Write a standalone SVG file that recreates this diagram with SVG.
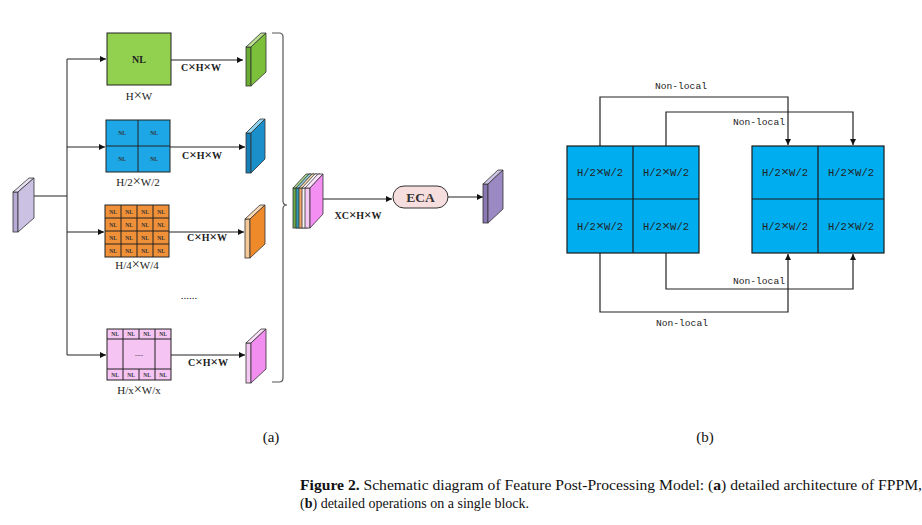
<svg xmlns="http://www.w3.org/2000/svg" width="922" height="525" viewBox="0 0 922 525">
<defs>
<marker id="ah" viewBox="0 0 10 10" refX="10" refY="5" markerWidth="7" markerHeight="6" orient="auto" markerUnits="userSpaceOnUse"><path d="M0,0 L10,5 L0,10 z" fill="#111"/></marker>
<style>
.ln{fill:none;stroke:#222;stroke-width:1}
.lb{fill:none;stroke:#222;stroke-width:1.2}
.ol{stroke:#333;stroke-width:0.8}
.grid{stroke:#222;stroke-width:1}
.dim{font-family:"Liberation Serif",serif;font-size:11px;fill:#222;text-anchor:middle}
.chw{font-family:"Liberation Serif",serif;font-size:10px;font-weight:bold;fill:#222;text-anchor:middle}
.nl{font-family:"Liberation Serif",serif;font-size:5.5px;font-weight:bold;fill:#333;text-anchor:middle}
.mono{font-family:"Liberation Mono",monospace;font-size:10.5px;fill:#222;text-anchor:middle}
.nlo{font-family:"Liberation Mono",monospace;font-size:9.6px;fill:#222;text-anchor:middle}
.cap{font-family:"Liberation Serif",serif;font-size:14px;fill:#111}
.sub{font-family:"Liberation Serif",serif;font-size:15px;fill:#111;text-anchor:middle}
.x{font-size:1.3em}
</style>
</defs>
<rect width="922" height="525" fill="#fff"/>

<g id="connectors">
<path class="ln" d="M34,196 H67"/>
<path class="ln" d="M67,59 V355"/>
<path class="ln" d="M67,59 H106" marker-end="url(#ah)"/>
<path class="ln" d="M67,147 H105" marker-end="url(#ah)"/>
<path class="ln" d="M67,232 H104" marker-end="url(#ah)"/>
<path class="ln" d="M67,355 H106" marker-end="url(#ah)"/>
<path class="ln" d="M171,60 H243" marker-end="url(#ah)"/>
<path class="ln" d="M170,147 H245" marker-end="url(#ah)"/>
<path class="ln" d="M169,232 H244" marker-end="url(#ah)"/>
<path class="ln" d="M171,355 H245" marker-end="url(#ah)"/>
<path class="ln" d="M323,199 H392" marker-end="url(#ah)"/>
<path class="ln" d="M448,197 H483" marker-end="url(#ah)"/>
<path d="M272,33 H279 Q283,33 283,37 V201 Q283,205 287,205 Q283,205 283,209 V378 Q283,382 279,382 H272" fill="none" stroke="#555" stroke-width="1.2"/>
<path class="lb" d="M600,146 V97 H788 V145" marker-end="url(#ah)"/>
<path class="lb" d="M666,146 V112 H853 V145" marker-end="url(#ah)"/>
<path class="lb" d="M666,253 V289 H853 V254" marker-end="url(#ah)"/>
<path class="lb" d="M600,253 V312 H788 V254" marker-end="url(#ah)"/>
</g>

<g id="input-slab">
<rect x="13" y="192" width="5" height="40" fill="#b8acd6" class="ol"/>
<polygon points="13,192 18,192 34,178 29,178" fill="#e6e0f2" class="ol"/>
<polygon points="18,192 34,178 34,218 18,232" fill="#cbc1e3" class="ol"/>
</g>

<g id="nl-full">
<rect x="107" y="33" width="64" height="52" fill="#92d050" class="grid"/>
<text x="139" y="63" class="chw" font-size="9">NL</text>
<text x="139" y="100" class="dim">H<tspan class="x">×</tspan>W</text>
</g>

<g id="nl-2x2">
<rect x="106" y="120" width="64" height="52" fill="#1ea7e6" class="grid"/>
<path class="grid" d="M138,120 V172 M106,146 H170"/>
<text x="122" y="135" class="nl">NL</text><text x="154" y="135" class="nl">NL</text>
<text x="122" y="161" class="nl">NL</text><text x="154" y="161" class="nl">NL</text>
<text x="138" y="186" class="dim">H/2<tspan class="x">×</tspan>W/2</text>
</g>

<g id="nl-4x4">
<rect x="105" y="205" width="64" height="52" fill="#f0913a" class="grid"/>
<path class="grid" d="M121,205 V257 M137,205 V257 M153,205 V257 M105,218 H169 M105,231 H169 M105,244 H169"/>
<g class="nl">
<text x="113" y="213.5">NL</text><text x="129" y="213.5">NL</text><text x="145" y="213.5">NL</text><text x="161" y="213.5">NL</text>
<text x="113" y="226.5">NL</text><text x="129" y="226.5">NL</text><text x="145" y="226.5">NL</text><text x="161" y="226.5">NL</text>
<text x="113" y="239.5">NL</text><text x="129" y="239.5">NL</text><text x="145" y="239.5">NL</text><text x="161" y="239.5">NL</text>
<text x="113" y="252.5">NL</text><text x="129" y="252.5">NL</text><text x="145" y="252.5">NL</text><text x="161" y="252.5">NL</text>
</g>
<text x="137" y="269" class="dim">H/4<tspan class="x">×</tspan>W/4</text>
</g>

<text x="189" y="299" class="dim">......</text>

<g id="nl-xx">
<rect x="107" y="329" width="64" height="51" fill="#f6c4f3" class="grid"/>
<path class="grid" d="M107,339 H171 M107,369 H171 M123,329 V380 M155,329 V380 M139,329 V339 M139,369 V380"/>
<g class="nl">
<text x="115" y="336">NL</text><text x="131" y="336">NL</text><text x="147" y="336">NL</text><text x="163" y="336">NL</text>
<text x="115" y="376.5">NL</text><text x="131" y="376.5">NL</text><text x="147" y="376.5">NL</text><text x="163" y="376.5">NL</text>
</g>
<text x="139" y="356" class="nl" font-size="7">......</text>
<text x="139" y="394" class="dim">H/x<tspan class="x">×</tspan>W/x</text>
</g>

<g id="labels-chw">
<text x="201" y="71" class="chw">C<tspan class="x">×</tspan>H<tspan class="x">×</tspan>W</text>
<text x="202" y="159" class="chw">C<tspan class="x">×</tspan>H<tspan class="x">×</tspan>W</text>
<text x="207" y="241" class="chw">C<tspan class="x">×</tspan>H<tspan class="x">×</tspan>W</text>
<text x="208" y="366" class="chw">C<tspan class="x">×</tspan>H<tspan class="x">×</tspan>W</text>
<text x="358" y="219" class="chw" font-size="9.5">XC<tspan class="x">×</tspan>H<tspan class="x">×</tspan>W</text>
</g>

<g id="slab-green">
<rect x="246" y="47" width="5" height="39" fill="#6aac30" class="ol"/>
<polygon points="246,47 251,47 266,33 261,33" fill="#b9e08e" class="ol"/>
<polygon points="251,47 266,33 266,72 251,86" fill="#7cbf3a" class="ol"/>
</g>
<g id="slab-blue">
<rect x="246" y="133" width="5" height="40" fill="#157fb8" class="ol"/>
<polygon points="246,133 251,133 265,119 260,119" fill="#8fd2f0" class="ol"/>
<polygon points="251,133 265,119 265,159 251,173" fill="#1b8fc9" class="ol"/>
</g>
<g id="slab-orange">
<rect x="245" y="219" width="5" height="39" fill="#f5c89a" class="ol"/>
<polygon points="245,219 250,219 265,205 260,205" fill="#fbd9b4" class="ol"/>
<polygon points="250,219 265,205 265,244 250,258" fill="#ef8a2a" class="ol"/>
</g>
<g id="slab-pink">
<rect x="246" y="343" width="5" height="40" fill="#f4c8f2" class="ol"/>
<polygon points="246,343 251,343 266,329 261,329" fill="#fbe0fa" class="ol"/>
<polygon points="251,343 266,329 266,369 251,383" fill="#f28ef0" class="ol"/>
</g>

<g id="stack">
<rect x="293" y="188" width="5" height="40" fill="#6aab47" class="ol"/>
<polygon points="293,188 298,188 311,174 306,174" fill="#a9d38c" class="ol"/>
<polygon points="298,188 311,174 311,214 298,228" fill="#6aab47" class="ol"/>
<rect x="296" y="188" width="5" height="40" fill="#2f9bb3" class="ol"/>
<polygon points="296,188 301,188 314,174 309,174" fill="#8fcbd8" class="ol"/>
<polygon points="301,188 314,174 314,214 301,228" fill="#2f9bb3" class="ol"/>
<rect x="299" y="188" width="5" height="40" fill="#f0a868" class="ol"/>
<polygon points="299,188 304,188 317,174 312,174" fill="#f8d2ac" class="ol"/>
<polygon points="304,188 317,174 317,214 304,228" fill="#f0a868" class="ol"/>
<rect x="302" y="188" width="5" height="40" fill="#f7f3f3" class="ol"/>
<polygon points="302,188 307,188 320,174 315,174" fill="#ffffff" class="ol"/>
<polygon points="307,188 320,174 320,214 307,228" fill="#f7f3f3" class="ol"/>
<rect x="305" y="188" width="5" height="40" fill="#f7c7f4" class="ol"/>
<polygon points="305,188 310,188 323,174 318,174" fill="#fbe2fa" class="ol"/>
<polygon points="310,188 323,174 323,214 310,228" fill="#f48ef2" class="ol"/>
</g>

<g id="eca">
<rect x="393" y="186" width="55" height="22" rx="11" fill="#f7dede" stroke="#333" stroke-width="1"/>
<text x="420.5" y="202" font-family="Liberation Serif,serif" font-size="13.5" font-weight="bold" fill="#333" text-anchor="middle">ECA</text>
</g>

<g id="slab-out">
<rect x="483" y="184" width="5" height="39" fill="#8a78b4" class="ol"/>
<polygon points="483,184 488,184 503,170 498,170" fill="#cdc3e3" class="ol"/>
<polygon points="488,184 503,170 503,209 488,223" fill="#9b89c3" class="ol"/>
</g>

<g id="grid-left">
<rect x="567" y="146" width="132" height="107" fill="#00aeef" stroke="#1a1a1a" stroke-width="1.2"/>
<path d="M633,146 V253 M567,199 H699" stroke="#1a1a1a" stroke-width="1.2"/>
<text x="600" y="176" class="mono">H/2<tspan class="x">×</tspan>W/2</text>
<text x="666" y="176" class="mono">H/2<tspan class="x">×</tspan>W/2</text>
<text x="600" y="230" class="mono">H/2<tspan class="x">×</tspan>W/2</text>
<text x="666" y="230" class="mono">H/2<tspan class="x">×</tspan>W/2</text>
</g>
<g id="grid-right">
<rect x="752" y="146" width="132" height="107" fill="#00aeef" stroke="#1a1a1a" stroke-width="1.2"/>
<path d="M818,146 V253 M752,199 H884" stroke="#1a1a1a" stroke-width="1.2"/>
<text x="785" y="176" class="mono">H/2<tspan class="x">×</tspan>W/2</text>
<text x="851" y="176" class="mono">H/2<tspan class="x">×</tspan>W/2</text>
<text x="785" y="230" class="mono">H/2<tspan class="x">×</tspan>W/2</text>
<text x="851" y="230" class="mono">H/2<tspan class="x">×</tspan>W/2</text>
</g>

<g id="nl-labels">
<text x="681" y="89" class="nlo">Non-local</text>
<text x="759" y="125" class="nlo">Non-local</text>
<text x="759" y="284" class="nlo">Non-local</text>
<text x="682" y="326" class="nlo">Non-local</text>
</g>

<text x="271" y="442" class="sub">(a)</text>
<text x="705" y="442" class="sub">(b)</text>

<text x="300" y="490" class="cap" textLength="622" lengthAdjust="spacingAndGlyphs"><tspan font-weight="bold">Figure 2.</tspan> Schematic diagram of Feature Post-Processing Model: (<tspan font-weight="bold">a</tspan>) detailed architecture of FPPM,</text>
<text x="300" y="508" class="cap">(<tspan font-weight="bold">b</tspan>) detailed operations on a single block.</text>
</svg>
